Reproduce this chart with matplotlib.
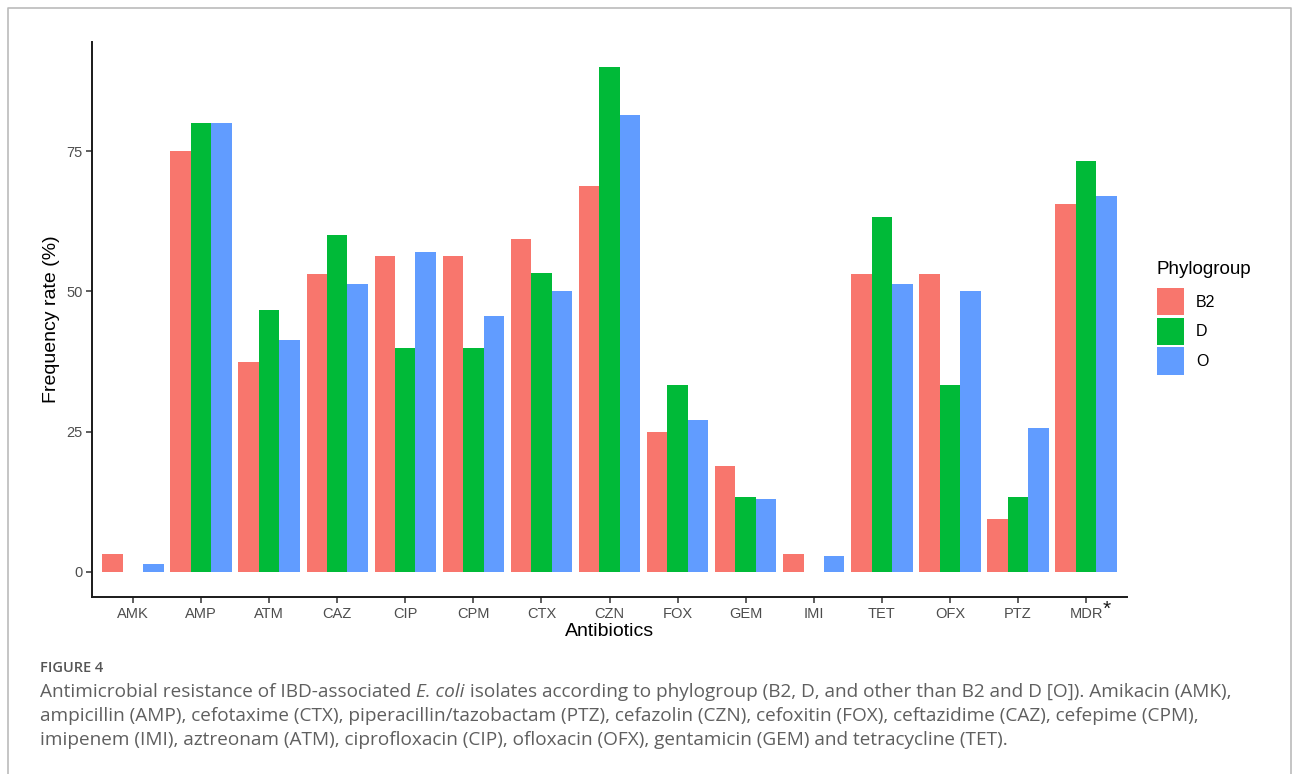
import matplotlib.pyplot as plt
import numpy as np

antibiotics = ["AMK", "AMP", "ATM", "CAZ", "CIP", "CPM", "CTX", "CZN",
               "FOX", "GEM", "IMI", "TET", "OFX", "PTZ", "MDR"]
groups = ["B2", "D", "O"]

b2 = [3.1, 75.0, 37.5, 53.1, 56.3, 56.3, 59.4, 68.8, 25.0, 18.8, 3.1, 53.1, 53.1, 9.4, 65.6]
d = [0.0, 80.0, 46.7, 60.0, 40.0, 40.0, 53.3, 90.0, 33.3, 13.3, 0.0, 63.3, 33.3, 13.3, 73.3]
o = [1.4, 80.0, 41.4, 51.4, 57.1, 45.7, 50.0, 81.4, 27.1, 12.9, 2.9, 51.4, 50.0, 25.7, 67.1]

colors = ["#F8766D", "#00BA38", "#619CFF"]

caption_head = "FIGURE 4"
caption = [
    [("Antimicrobial resistance of IBD-associated ", "normal"), ("E. coli", "italic"),
     (" isolates according to phylogroup (B2, D, and other than B2 and D [O]). Amikacin (AMK),", "normal")],
    [("ampicillin (AMP), cefotaxime (CTX), piperacillin/tazobactam (PTZ), cefazolin (CZN), "
      "cefoxitin (FOX), ceftazidime (CAZ), cefepime (CPM),", "normal")],
    [("imipenem (IMI), aztreonam (ATM), ciprofloxacin (CIP), ofloxacin (OFX), gentamicin (GEM) "
      "and tetracycline (TET).", "normal")],
]

plt.rcParams['font.family'] = ['Liberation Sans', 'DejaVu Sans']
CAP_FONT = ['Open Sans', 'DejaVu Sans']


def draw():
    fig = plt.figure(figsize=(12.93, 7.74), dpi=100)
    ax = fig.add_axes([0.0712, 0.2287, 0.8004, 0.717])

    x = np.arange(len(antibiotics))
    w = 0.3
    bars = []
    for k, (vals, col) in enumerate(zip([b2, d, o], colors)):
        b = ax.bar(x + (k - 1) * w, vals, width=w, color=col, linewidth=0)
        bars.append(b)

    ax.set_xlim(-0.6, len(antibiotics) - 0.4)
    ax.set_ylim(-4.5, 94.5)
    ax.set_yticks([0, 25, 50, 75])
    ax.set_xticks(x)
    ax.set_xticklabels(antibiotics)
    # asterisk next to the MDR label
    ax.annotate("*", xy=(x[-1], 0), xycoords=('data', 'axes fraction'),
                xytext=(12, -15.5), textcoords='offset points',
                fontsize=15, ha='left', va='bottom', color='#1a1a1a')

    for side in ['top', 'right']:
        ax.spines[side].set_visible(False)
    for side in ['left', 'bottom']:
        ax.spines[side].set_linewidth(1.4)
        ax.spines[side].set_color('#1a1a1a')
    ax.tick_params(length=4, width=1.1, color='#333333', labelsize=10.5,
                   labelcolor='#4D4D4D', pad=3)

    ax.set_xlabel("Antibiotics", fontsize=14, labelpad=2)
    ax.set_ylabel("Frequency rate (%)", fontsize=14, labelpad=4)

    # legend: title as its own text, keys below it
    fig.text(1156 / 1293, 1 - 270 / 774, "Phylogroup", fontsize=13.5, va='center')
    fig.legend([b[0] for b in bars], groups,
               loc='upper left', bbox_to_anchor=(1157 / 1293, 1 - 288 / 774),
               frameon=False, fontsize=11.5,
               handlelength=1.7, handleheight=2.25, handletextpad=0.75,
               labelspacing=0.15, borderpad=0, borderaxespad=0)

    # caption block under the chart
    fig.text(40 / 1293, 1 - 668 / 774, caption_head, fontsize=10.5, color='#555555',
             family=CAP_FONT, weight='semibold', va='center')
    renderer = fig.canvas.get_renderer()
    for i, parts in enumerate(caption):
        xpos = 40
        ypos = 1 - (692 + 24 * i) / 774
        for txt, style in parts:
            t = fig.text(xpos / 1293, ypos, txt, fontsize=13.7, color='#5F5F5F',
                         family=CAP_FONT, style=style, va='center')
            xpos += t.get_window_extent(renderer).width

    # thin frame around the panel
    frame_x = [8 / 1293, 8 / 1293, 1291 / 1293, 1291 / 1293]
    frame_y = [0, 1 - 8 / 774, 1 - 8 / 774, 0]
    fig.add_artist(plt.Line2D(frame_x, frame_y, color='#BBBBBB', linewidth=1.2))

    fig.savefig("out.png", dpi=100)


def main():
    draw()


if __name__ == '__main__':
    main()
